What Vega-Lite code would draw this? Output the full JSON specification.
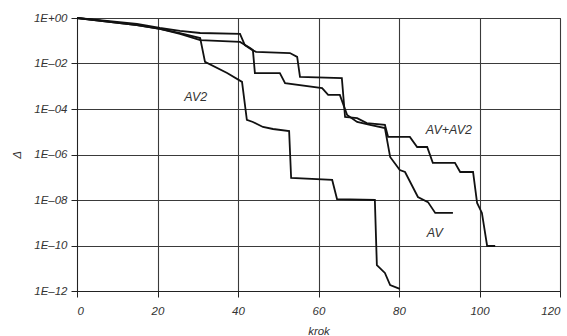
{
  "$schema": "https://vega.github.io/schema/vega-lite/v6.json",
  "width": 483,
  "height": 273,
  "autosize": {"type": "none"},
  "padding": {"left": 77, "top": 18, "right": 7, "bottom": 45},
  "background": "white",
  "config": {
    "view": {"stroke": "#333", "strokeWidth": 1},
    "font": "Liberation Sans",
    "axis": {
      "labelFont": "Liberation Sans",
      "labelFontStyle": "italic",
      "labelFontSize": 11.5,
      "labelColor": "#333",
      "titleFont": "Liberation Sans",
      "titleFontStyle": "italic",
      "titleFontWeight": "normal",
      "titleFontSize": 11.5,
      "titleColor": "#333",
      "gridColor": "#3a3a3a",
      "gridWidth": 1.1,
      "gridOpacity": 1,
      "domainColor": "#222",
      "tickColor": "#222",
      "tickSize": 6
    }
  },
  "datasets": {
    "curves": [
      {"series": "AV+AV2", "krok": 0, "delta": 1},
      {"series": "AV+AV2", "krok": 14.9, "delta": 0.5495},
      {"series": "AV+AV2", "krok": 20.6, "delta": 0.3631},
      {"series": "AV+AV2", "krok": 25.6, "delta": 0.2692},
      {"series": "AV+AV2", "krok": 30.6, "delta": 0.2188},
      {"series": "AV+AV2", "krok": 40.5, "delta": 0.1995},
      {"series": "AV+AV2", "krok": 41.7, "delta": 0.0646},
      {"series": "AV+AV2", "krok": 43.5, "delta": 0.0389},
      {"series": "AV+AV2", "krok": 44.5, "delta": 0.0324},
      {"series": "AV+AV2", "krok": 52.9, "delta": 0.0288},
      {"series": "AV+AV2", "krok": 54.7, "delta": 0.0195},
      {"series": "AV+AV2", "krok": 55.4, "delta": 0.00257},
      {"series": "AV+AV2", "krok": 65.8, "delta": 0.00229},
      {"series": "AV+AV2", "krok": 66.6, "delta": 4.47e-5},
      {"series": "AV+AV2", "krok": 69.6, "delta": 3.98e-5},
      {"series": "AV+AV2", "krok": 72.0, "delta": 2.4e-5},
      {"series": "AV+AV2", "krok": 76.5, "delta": 2.0e-5},
      {"series": "AV+AV2", "krok": 77.3, "delta": 5.9e-6},
      {"series": "AV+AV2", "krok": 82.7, "delta": 5.9e-6},
      {"series": "AV+AV2", "krok": 84.5, "delta": 2.14e-6},
      {"series": "AV+AV2", "krok": 87.0, "delta": 2.14e-6},
      {"series": "AV+AV2", "krok": 88.4, "delta": 4.27e-7},
      {"series": "AV+AV2", "krok": 93.9, "delta": 4.27e-7},
      {"series": "AV+AV2", "krok": 95.2, "delta": 1.7e-7},
      {"series": "AV+AV2", "krok": 98.4, "delta": 1.7e-7},
      {"series": "AV+AV2", "krok": 99.4, "delta": 7.4e-9},
      {"series": "AV+AV2", "krok": 100.6, "delta": 2.7e-9},
      {"series": "AV+AV2", "krok": 101.9, "delta": 9.5e-11},
      {"series": "AV+AV2", "krok": 103.9, "delta": 9.5e-11},

      {"series": "AV", "krok": 0, "delta": 1},
      {"series": "AV", "krok": 14.9, "delta": 0.4898},
      {"series": "AV", "krok": 20.6, "delta": 0.3311},
      {"series": "AV", "krok": 25.6, "delta": 0.1995},
      {"series": "AV", "krok": 30.6, "delta": 0.1072},
      {"series": "AV", "krok": 40.5, "delta": 0.0891},
      {"series": "AV", "krok": 43.0, "delta": 0.0479},
      {"series": "AV", "krok": 43.7, "delta": 0.0389},
      {"series": "AV", "krok": 44.2, "delta": 0.0038},
      {"series": "AV", "krok": 50.4, "delta": 0.0038},
      {"series": "AV", "krok": 51.7, "delta": 0.00138},
      {"series": "AV", "krok": 60.9, "delta": 0.000832},
      {"series": "AV", "krok": 62.4, "delta": 0.000417},
      {"series": "AV", "krok": 65.3, "delta": 0.000417},
      {"series": "AV", "krok": 67.1, "delta": 5.5e-5},
      {"series": "AV", "krok": 69.6, "delta": 2.69e-5},
      {"series": "AV", "krok": 72.8, "delta": 2.0e-5},
      {"series": "AV", "krok": 76.5, "delta": 1.45e-5},
      {"series": "AV", "krok": 77.8, "delta": 7.8e-7},
      {"series": "AV", "krok": 80.2, "delta": 2.09e-7},
      {"series": "AV", "krok": 81.5, "delta": 1.7e-7},
      {"series": "AV", "krok": 84.7, "delta": 1.35e-8},
      {"series": "AV", "krok": 87.2, "delta": 8.1e-9},
      {"series": "AV", "krok": 89.0, "delta": 2.7e-9},
      {"series": "AV", "krok": 93.4, "delta": 2.7e-9},

      {"series": "AV2", "krok": 0, "delta": 1},
      {"series": "AV2", "krok": 14.9, "delta": 0.4898},
      {"series": "AV2", "krok": 20.6, "delta": 0.3311},
      {"series": "AV2", "krok": 25.6, "delta": 0.2188},
      {"series": "AV2", "krok": 30.6, "delta": 0.1318},
      {"series": "AV2", "krok": 31.8, "delta": 0.01175},
      {"series": "AV2", "krok": 37.3, "delta": 0.0038},
      {"series": "AV2", "krok": 41.0, "delta": 0.00155},
      {"series": "AV2", "krok": 42.2, "delta": 3.31e-5},
      {"series": "AV2", "krok": 43.7, "delta": 2.69e-5},
      {"series": "AV2", "krok": 46.2, "delta": 1.62e-5},
      {"series": "AV2", "krok": 48.7, "delta": 1.32e-5},
      {"series": "AV2", "krok": 52.7, "delta": 1.07e-5},
      {"series": "AV2", "krok": 53.2, "delta": 9.3e-8},
      {"series": "AV2", "krok": 63.4, "delta": 7.6e-8},
      {"series": "AV2", "krok": 64.6, "delta": 1.1e-8},
      {"series": "AV2", "krok": 74.0, "delta": 1.0e-8},
      {"series": "AV2", "krok": 74.5, "delta": 1.38e-11},
      {"series": "AV2", "krok": 76.5, "delta": 6.2e-12},
      {"series": "AV2", "krok": 77.8, "delta": 1.82e-12},
      {"series": "AV2", "krok": 80.2, "delta": 1.23e-12}
    ],
    "labels": [
      {"label": "AV2", "krok": 29.5, "delta": 3.4e-4},
      {"label": "AV+AV2", "krok": 92.4, "delta": 1.2e-5},
      {"label": "AV", "krok": 88.9, "delta": 3.6e-10}
    ]
  },
  "layer": [
    {
      "data": {"name": "curves"},
      "mark": {"type": "line", "color": "#111", "strokeWidth": 1.8, "interpolate": "linear"},
      "encoding": {
        "x": {
          "field": "krok", "type": "quantitative",
          "scale": {"domain": [0, 120], "nice": false},
          "axis": {"title": "krok", "values": [0, 20, 40, 60, 80, 100, 120], "labelPadding": 8, "titlePadding": 9, "grid": true}
        },
        "y": {
          "field": "delta", "type": "quantitative",
          "scale": {"type": "log", "domain": [1e-12, 1], "nice": false},
          "axis": {
            "title": "Δ",
            "titleAngle": -90,
            "titlePadding": 11,
            "values": [1e-12, 1e-10, 1e-8, 1e-6, 1e-4, 1e-2, 1],
            "labelExpr": "datum.value >= 0.5 ? '1E+00' : '1E–' + (round(-log(datum.value)/LN10) < 10 ? '0' : '') + round(-log(datum.value)/LN10)",
            "labelPadding": 4,
            "grid": true
          }
        },
        "detail": {"field": "series", "type": "nominal"}
      }
    },
    {
      "data": {"name": "labels"},
      "mark": {"type": "text", "font": "Liberation Sans", "fontStyle": "italic", "fontSize": 12.5, "color": "#333", "align": "center", "baseline": "middle"},
      "encoding": {
        "x": {"field": "krok", "type": "quantitative"},
        "y": {"field": "delta", "type": "quantitative"},
        "text": {"field": "label", "type": "nominal"}
      }
    }
  ]
}
